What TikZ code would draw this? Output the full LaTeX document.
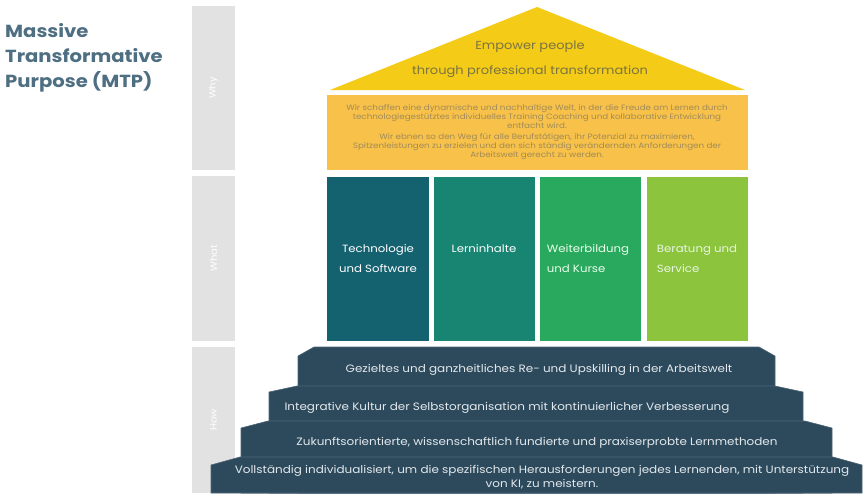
\documentclass[tikz,border=0pt]{standalone}
\usepackage{fontspec}
\setmainfont{Poppins}[FakeStretch=1.12]
\usetikzlibrary{positioning}

\definecolor{titelblau}{HTML}{4E6E82}
\definecolor{grau}{HTML}{E2E2E2}
\definecolor{dachgelb}{HTML}{F4CB17}
\definecolor{dachtext}{HTML}{7A7440}
\definecolor{wandgelb}{HTML}{F8C24A}
\definecolor{wandtext}{HTML}{A08A58}
\definecolor{saeuleA}{HTML}{14616F}
\definecolor{saeuleB}{HTML}{178572}
\definecolor{saeuleC}{HTML}{29A95E}
\definecolor{saeuleD}{HTML}{8CC43E}
\definecolor{stufe}{HTML}{2D4A5D}
\definecolor{stufetext}{HTML}{E2E8EC}

\begin{document}
\begin{tikzpicture}[x=1pt, y=-1pt,
  seite/.style={fill=grau},
  seitentext/.style={rotate=90, text=white, font=\fontsize{9}{9}\selectfont},
  saeule/.style={align=center, font=\fontsize{10.5}{20}\selectfont},
  stufentext/.style={text=stufetext, align=center, font=\fontsize{10.7}{14}\selectfont}]
  \useasboundingbox[fill=white] (0,0) rectangle (867,499);

  % Titel
  \node[anchor=north west, align=left, text=titelblau, inner sep=0pt,
    font=\fontsize{17.5}{25}\selectfont\bfseries] (titel) at (5,23)
    {Massive\\Transformative\\Purpose (MTP)};

  % graue Leiste links
  \fill[seite] (192,6) rectangle (235,170);
  \fill[seite] (192,176) rectangle (235,341);
  \fill[seite] (192,347) rectangle (235,493);
  \node[seitentext] (why) at (213.5,88) {Why};
  \node[seitentext] (what) at (213.5,258) {What};
  \node[seitentext] (how) at (213.5,420) {How};

  % Dach
  \fill[dachgelb] (537,7) -- (745,90) -- (330,90) -- cycle;
  \node[text=dachtext, font=\fontsize{11.6}{12}\selectfont] (dach1) at (530,47) {Empower people};
  \node[text=dachtext, font=\fontsize{11.6}{12}\selectfont] (dach2) at (530,72) {through professional transformation};

  % Wand
  \fill[wandgelb] (327,95) rectangle (748,170);
  \node[text=wandtext, align=center, font=\fontsize{7.8}{9}\selectfont] (wand) at (537,132)
    {Wir schaffen eine dynamische und nachhaltige Welt, in der die Freude am Lernen durch\\
     technologiegestütztes individuelles Training Coaching und kollaborative Entwicklung\\
     entfacht wird.\\[2.2pt]
     Wir ebnen so den Weg für alle Berufstätigen, ihr Potenzial zu maximieren,\\
     Spitzenleistungen zu erzielen und den sich ständig verändernden Anforderungen der\\
     Arbeitswelt gerecht zu werden.};

  % Saeulen
  \fill[saeuleA] (327,177) rectangle (429,341);
  \fill[saeuleB] (434,177) rectangle (535,341);
  \fill[saeuleC] (540,177) rectangle (641,341);
  \fill[saeuleD] (647,177) rectangle (748,341);
  \node[saeule, text=white] (technik) at (378,259) {Technologie\\und Software};
  \node[saeule, text=white] (inhalte) at (484,249) {Lerninhalte};
  \node[saeule, align=left, text=green!8!white] (kurse) at (588,259) {Weiterbildung\\und Kurse};
  \node[saeule, align=left, text=yellow!25!green!12!white] (service) at (697,259) {Beratung und\\Service};

  % Stufen
  \foreach \l/\r/\s/\t/\d in {298/775/356/347/16, 269/803/392/386/28, 241/832/428/421/27, 211/862/465/457/29}
    \filldraw[fill=stufe, draw=stufe!85!white, line width=0.6pt]
      (\l,493) -- (\l,\s) -- (\l+\d,\t) -- (\r-\d,\t) -- (\r,\s) -- (\r,493) -- cycle;
  \node[stufentext] (stufe1) at (539,370) {Gezieltes und ganzheitliches Re- und Upskilling in der Arbeitswelt};
  \node[stufentext] (stufe2) at (507,408) {Integrative Kultur der Selbstorganisation mit kontinuierlicher Verbesserung};
  \node[stufentext] (stufe3) at (537,443) {Zukunftsorientierte, wissenschaftlich fundierte und praxiserprobte Lernmethoden};
  \node[stufentext] (stufe4) at (542,477.5) {Vollständig individualisiert, um die spezifischen Herausforderungen jedes Lernenden, mit Unterstützung\\von KI, zu meistern.};
\end{tikzpicture}
\end{document}
